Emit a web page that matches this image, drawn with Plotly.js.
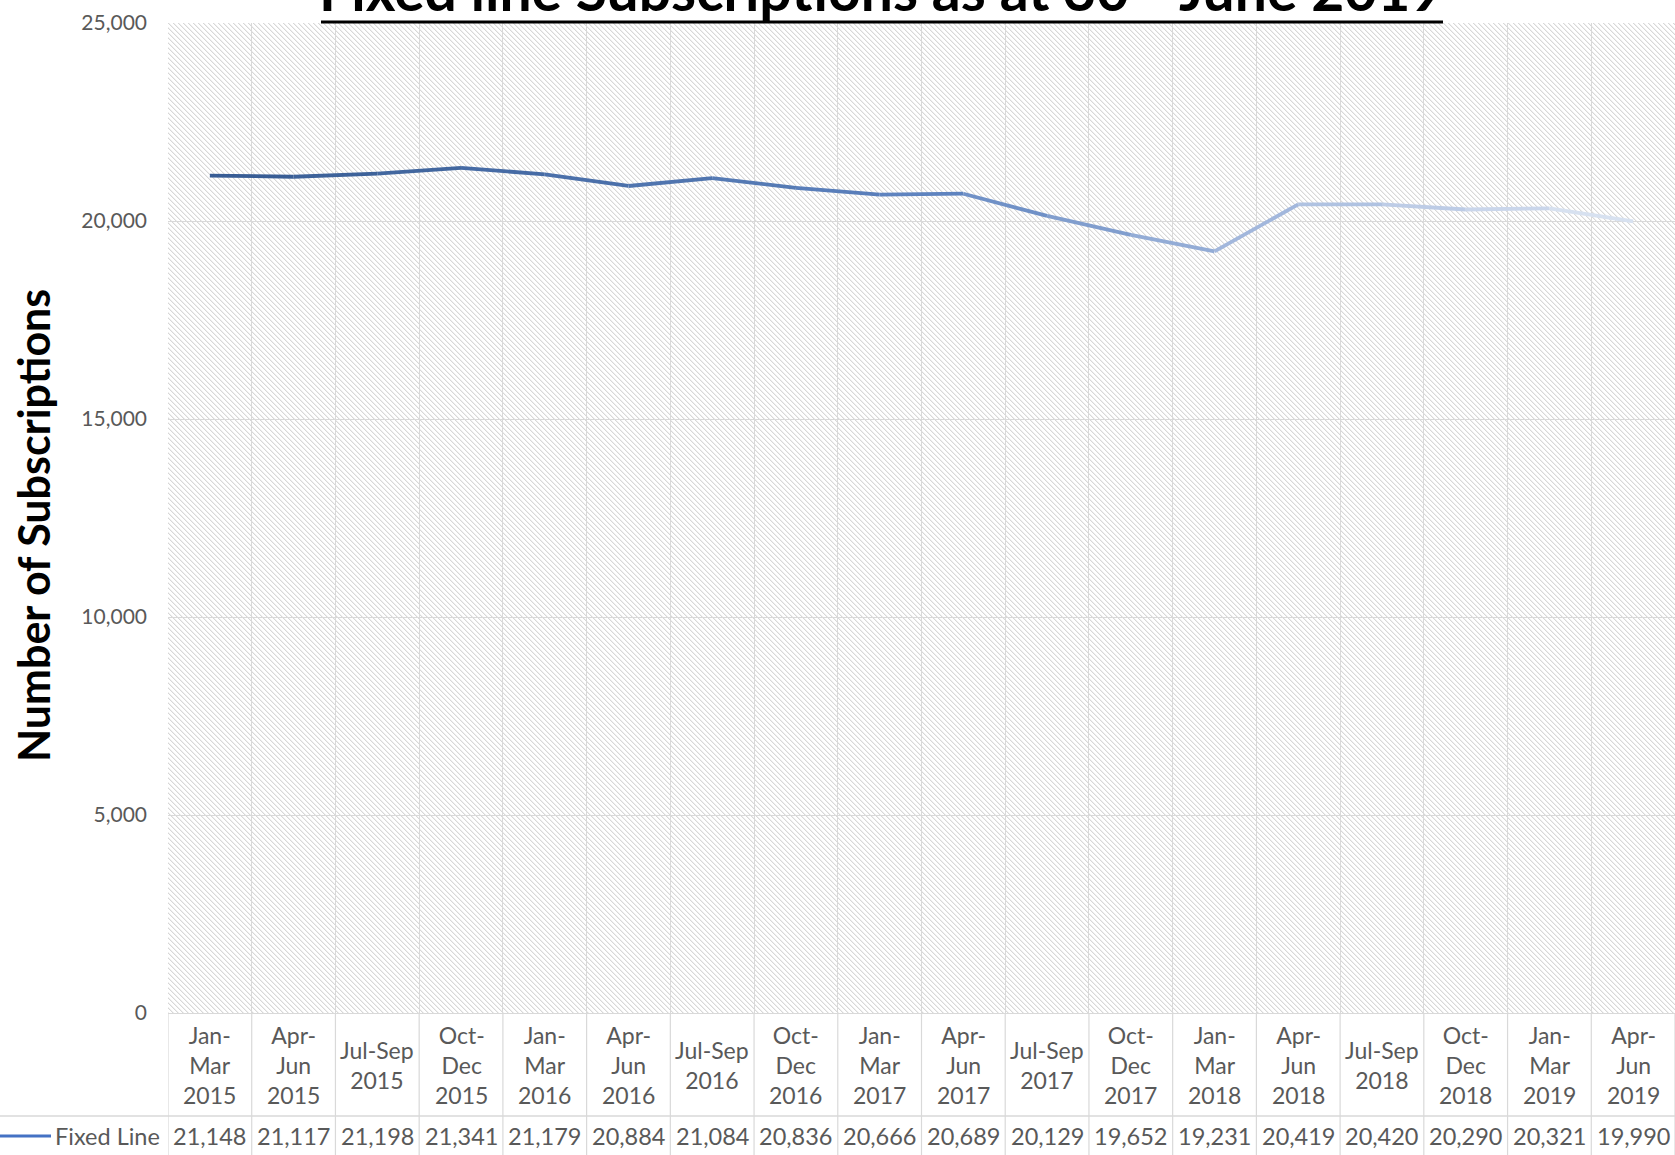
<!DOCTYPE html>
<html>
<head>
<meta charset="utf-8">
<script src="https://cdn.plot.ly/plotly-3.0.1.min.js"></script>
<style>
  html, body { margin: 0; padding: 0; background: #ffffff; overflow: hidden; }
  #wrap { position: relative; width: 1675px; height: 1155px; }
  #hatch { position: absolute; z-index: 0;
    background-image: url("data:image/svg+xml;utf8,<svg xmlns='http://www.w3.org/2000/svg' width='5' height='5' shape-rendering='crispEdges'><rect width='5' height='5' fill='%23ffffff'/><rect x='0' y='0' width='1' height='1' fill='%23d8d8d8'/><rect x='1' y='1' width='1' height='1' fill='%23d8d8d8'/><rect x='2' y='2' width='1' height='1' fill='%23d8d8d8'/><rect x='3' y='3' width='1' height='1' fill='%23d8d8d8'/><rect x='4' y='4' width='1' height='1' fill='%23d8d8d8'/><rect x='1' y='0' width='1' height='1' fill='%23efefef'/><rect x='2' y='1' width='1' height='1' fill='%23efefef'/><rect x='3' y='2' width='1' height='1' fill='%23efefef'/><rect x='4' y='3' width='1' height='1' fill='%23efefef'/><rect x='0' y='4' width='1' height='1' fill='%23efefef'/></svg>");
    background-repeat: repeat; }
  #chart { position: absolute; left: 0; top: 0; z-index: 1; width: 1675px; height: 1155px; }
</style>
</head>
<body>
<div id="wrap">
  <div id="hatch"></div>
  <div id="chart"></div>
</div>
<script>
// ---------------- data ----------------
const quarters = ['Jan-Mar 2015','Apr-Jun 2015','Jul-Sep 2015','Oct-Dec 2015',
  'Jan-Mar 2016','Apr-Jun 2016','Jul-Sep 2016','Oct-Dec 2016',
  'Jan-Mar 2017','Apr-Jun 2017','Jul-Sep 2017','Oct-Dec 2017',
  'Jan-Mar 2018','Apr-Jun 2018','Jul-Sep 2018','Oct-Dec 2018',
  'Jan-Mar 2019','Apr-Jun 2019'];
const tickLabels = ['Jan-<br>Mar<br>2015','Apr-<br>Jun<br>2015','Jul-Sep<br>2015','Oct-<br>Dec<br>2015',
  'Jan-<br>Mar<br>2016','Apr-<br>Jun<br>2016','Jul-Sep<br>2016','Oct-<br>Dec<br>2016',
  'Jan-<br>Mar<br>2017','Apr-<br>Jun<br>2017','Jul-Sep<br>2017','Oct-<br>Dec<br>2017',
  'Jan-<br>Mar<br>2018','Apr-<br>Jun<br>2018','Jul-Sep<br>2018','Oct-<br>Dec<br>2018',
  'Jan-<br>Mar<br>2019','Apr-<br>Jun<br>2019'];
const fixedLine = [21148,21117,21198,21341,21179,20884,21084,20836,20666,20689,
  20129,19652,19231,20419,20420,20290,20321,19990];
const seriesName = 'Fixed Line';
const yTickVals = [0,5000,10000,15000,20000,25000];
const titleText = 'Fixed line Subscriptions as at 30<sup>th</sup> June 2019';
const yTitleText = 'Number of Subscriptions';

// ---------------- layout geometry (pixels) ----------------
const W = 1675, H = 1155, L = 168, T = 23, B = 1013, R = 0;
const hatch = document.getElementById('hatch');
hatch.style.left = L + 'px'; hatch.style.top = T + 'px';
hatch.style.width = (W - L - R) + 'px'; hatch.style.height = (B - T) + 'px';
const px2x = p => (p - L) / (W - L - R);
const py2y = p => (B - p) / (B - T);

const FONT = 'Lato, "Open Sans", sans-serif';
const GRAY = '#595959';
const GRID = '#d9d9d9';

// gradient stops for the line (style)
const stops = [[0,[54,91,146]],[0.5,[94,131,191]],[0.7,[154,177,217]],[1,[222,230,242]]];
function colorAt(t){
  for (let k=0;k<stops.length-1;k++){
    const [t0,c0]=stops[k],[t1,c1]=stops[k+1];
    if (t>=t0 && t<=t1){
      const f=(t-t0)/(t1-t0);
      const c=c0.map((v,j)=>Math.round(v+(c1[j]-v)*f));
      return 'rgb('+c.join(',')+')';
    }
  }
  return 'rgb(222,230,242)';
}

const traces = [];
const n = quarters.length;
for (let i=0;i<n-1;i++){
  traces.push({
    type:'scatter', mode:'lines',
    x:[quarters[i],quarters[i+1]], y:[fixedLine[i],fixedLine[i+1]],
    name: seriesName, showlegend:false, hoverinfo:'skip',
    line:{color:colorAt((i+0.5)/(n-1)), width:3.8}
  });
}

const annotations = [];
// title (clipped at the top edge, as in the reference)
annotations.push({
  xref:'paper', yref:'paper', x:px2x(881), y:py2y(25.5), xanchor:'center', yanchor:'bottom',
  text:'<b>'+titleText+'</b>', showarrow:false,
  font:{family:FONT, size:57, color:'#000000'}
});
// y axis title
annotations.push({
  xref:'paper', yref:'paper', x:px2x(33), y:py2y(526), xanchor:'center', yanchor:'middle',
  textangle:-90, text:'<b>'+yTitleText+'</b>', showarrow:false,
  font:{family:FONT, size:43, color:'#000000'}
});
// category labels + values
for (let i=0;i<n;i++){
  annotations.push({
    xref:'x', yref:'paper', x:quarters[i], y:py2y(1064.5), xanchor:'center', yanchor:'middle',
    text:tickLabels[i], showarrow:false, font:{family:FONT, size:23, color:GRAY}
  });
  annotations.push({
    xref:'x', yref:'paper', x:quarters[i], y:py2y(1136), xanchor:'center', yanchor:'middle',
    text:fixedLine[i].toLocaleString('en-US'), showarrow:false, font:{family:FONT, size:23.5, color:GRAY}
  });
}
// legend text
annotations.push({
  xref:'paper', yref:'paper', x:px2x(162), y:py2y(1136), xanchor:'right', yanchor:'middle',
  text:seriesName, showarrow:false, font:{family:FONT, size:23.5, color:GRAY}
});

const shapes = [];
// table vertical borders
for (let i=0;i<=n;i++){
  shapes.push({type:'line', xref:'x', yref:'paper', x0:i-0.5, x1:i-0.5, y0:0, y1:py2y(H+2),
    line:{color:GRID, width:1.2}, layer:'below'});
}
// row separator
shapes.push({type:'line', xref:'paper', yref:'paper', x0:px2x(0), x1:1, y0:py2y(1116), y1:py2y(1116),
  line:{color:GRID, width:1.3}});
// legend key
shapes.push({type:'line', xref:'paper', yref:'paper', x0:px2x(0), x1:px2x(51), y0:py2y(1136), y1:py2y(1136),
  line:{color:'#4472c4', width:3}});
// title underline
shapes.push({type:'line', xref:'paper', yref:'paper', x0:px2x(321), x1:px2x(1443), y0:py2y(22), y1:py2y(22),
  line:{color:'#000000', width:3}});

const layout = {
  width:W, height:H,
  margin:{l:L, r:R, t:T, b:H-B, pad:0},
  paper_bgcolor:'rgba(0,0,0,0)', plot_bgcolor:'rgba(0,0,0,0)',
  showlegend:false,
  font:{family:FONT, color:GRAY},
  xaxis:{type:'category', categoryarray:quarters, categoryorder:'array',
    range:[-0.5, n-0.5], tickson:'boundaries', showgrid:true, gridcolor:GRID, gridwidth:1,
    showticklabels:false, ticks:'', showline:true, linecolor:GRID, linewidth:1.3, zeroline:false,
    fixedrange:true},
  yaxis:{range:[0,25000], tickvals:yTickVals, tickformat:',', showgrid:true, gridcolor:GRID, gridwidth:1,
    zeroline:false, showline:false, ticks:'', ticklabelstandoff:20,
    tickfont:{family:FONT, size:21, color:GRAY},
    fixedrange:true},
  annotations:annotations,
  shapes:shapes
};

Plotly.newPlot('chart', traces, layout, {displayModeBar:false, staticPlot:true});
</script>
</body>
</html>
